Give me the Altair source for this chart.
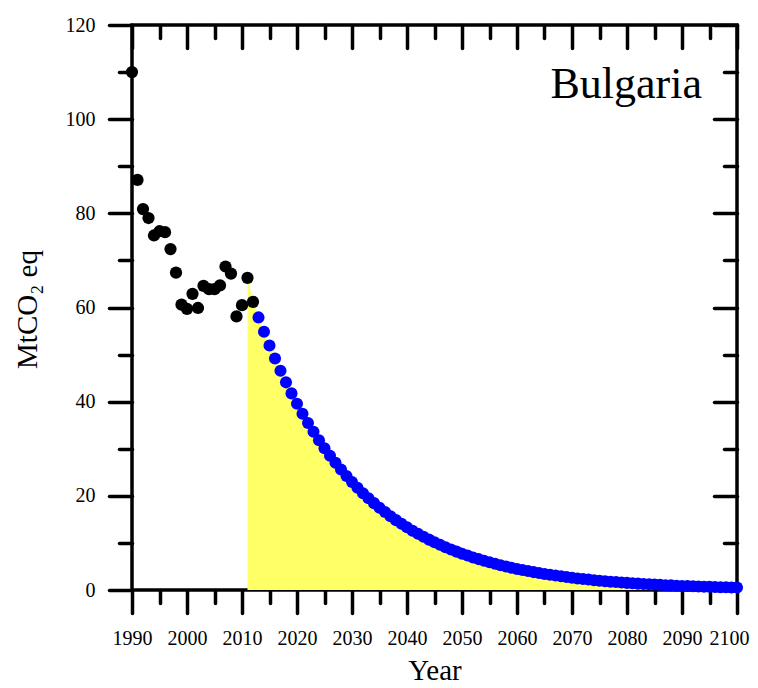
import altair as alt
import pandas as pd

# ---- data ----
hist_years = list(range(1990, 2013))
hist_values = [110.0, 87.1, 80.9, 79.0, 75.3, 76.2, 76.0, 72.4, 67.4, 60.6, 59.7,
               62.9, 59.9, 64.6, 63.9, 63.9, 64.7, 68.7, 67.2, 58.1, 60.5, 66.3, 61.2]

proj_years = list(range(2013, 2101))
proj_values = [57.90, 54.83, 51.93, 49.17, 46.57, 44.10, 41.76, 39.55, 37.45, 35.47,
               33.59, 31.81, 30.12, 28.53, 27.01, 25.58, 24.23, 22.94, 21.73, 20.57,
               19.48, 18.45, 17.47, 16.55, 15.67, 14.84, 14.05, 13.31, 12.60, 11.94,
               11.30, 10.70, 10.14, 9.60, 9.09, 8.61, 8.15, 7.72, 7.31, 6.92,
               6.56, 6.21, 5.88, 5.57, 5.27, 4.99, 4.73, 4.48, 4.24, 4.02,
               3.80, 3.60, 3.41, 3.23, 3.06, 2.90, 2.74, 2.60, 2.46, 2.33,
               2.21, 2.09, 1.98, 1.87, 1.77, 1.68, 1.59, 1.51, 1.43, 1.35,
               1.28, 1.21, 1.15, 1.09, 1.03, 0.98, 0.92, 0.87, 0.83, 0.78,
               0.74, 0.70, 0.67, 0.63, 0.60, 0.57, 0.54, 0.51]

x_major = list(range(1990, 2101, 10))
x_minor = list(range(1995, 2100, 10))
y_major = list(range(0, 121, 20))
y_minor = list(range(10, 120, 20))

country = "Bulgaria"
x_title = "Year"
y_title = "MtCO\u2082 eq"

hist_df = pd.DataFrame({"year": hist_years, "value": hist_values})
proj_df = pd.DataFrame({"year": proj_years, "value": proj_values})
area_df = pd.DataFrame({"year": hist_years[-2:] + proj_years,
                        "value": hist_values[-2:] + proj_values})

W, H = 605, 565
FONT = "Liberation Serif"
xs = alt.Scale(domain=[1990, 2100], nice=False, zero=False)
ys = alt.Scale(domain=[0, 120], nice=False)

common = dict(grid=False, domain=False, tickColor="black", tickWidth=3.5,
              tickCap="round", labelFlush=False, labelOverlap=False)


def xaxis(values, size, orient="bottom", offset=0, labels=False, title=None):
    kw = dict(common)
    kw.update(values=values, tickSize=size, orient=orient, offset=offset, labels=labels)
    if labels:
        kw.update(format="d", labelFont=FONT, labelFontSize=20, labelColor="black",
                  labelPadding=15,
                  labelOffset={"condition": {"test": "datum.value >= 2100", "value": -8},
                               "value": 0})
    if title:
        kw.update(title=title, titleFont=FONT, titleFontSize=29, titleFontWeight="normal",
                  titleColor="black", titleBaseline="alphabetic", titleY=89)
    else:
        kw.update(title=None)
    return alt.Axis(**kw)


def yaxis(values, size, orient="left", offset=0, labels=False, title=None):
    kw = dict(common)
    kw.update(values=values, tickSize=size, orient=orient, offset=offset, labels=labels)
    if labels:
        kw.update(labelFont=FONT, labelFontSize=20, labelColor="black", labelPadding=14)
    if title:
        kw.update(title=title, titleFont=FONT, titleFontSize=29, titleFontWeight="normal",
                  titleColor="black", titleAngle=270, titleBaseline="alphabetic",
                  titleX=-96, titleY=284)
    else:
        kw.update(title=None)
    return alt.Axis(**kw)


area = alt.Chart(area_df).mark_area(color="#FFFF66", opacity=1).encode(
    x=alt.X("year:Q", scale=xs, axis=xaxis(x_major, 23, labels=True, title=x_title)),
    y=alt.Y("value:Q", scale=ys, axis=yaxis(y_major, 23, labels=True, title=y_title)),
)

hist = alt.Chart(hist_df).mark_circle(color="black", size=150, opacity=1).encode(
    x=alt.X("year:Q", scale=xs, axis=xaxis(x_minor, 13)),
    y=alt.Y("value:Q", scale=ys, axis=yaxis(y_minor, 13)),
)

proj = alt.Chart(proj_df).mark_circle(color="#0000FF", size=145, opacity=1).encode(
    x=alt.X("year:Q", scale=xs, axis=xaxis(x_major, 23, offset=-H)),
    y=alt.Y("value:Q", scale=ys, axis=yaxis(y_major, 23, offset=-W)),
)

ghost = alt.Chart(hist_df).mark_circle(opacity=0, size=1).encode(
    x=alt.X("year:Q", scale=xs, axis=xaxis(x_minor, 13, offset=-H)),
    y=alt.Y("value:Q", scale=ys, axis=yaxis(y_minor, 13, offset=-W)),
)

label = alt.Chart(pd.DataFrame({"t": [country]})).mark_text(
    font=FONT, fontSize=44, color="black", align="right", baseline="alphabetic"
).encode(text="t:N", x=alt.value(570), y=alt.value(73))

chart = alt.layer(area, hist, proj, ghost, label).resolve_axis(
    x="independent", y="independent"
).properties(
    width=W, height=H,
    autosize=alt.AutoSizeParams(type="none"),
    padding={"left": 124, "top": 17, "right": 13, "bottom": 98},
).configure_view(stroke="black", strokeWidth=3.5)

chart.save("out.html", embed_options={"renderer": "svg", "actions": False})
